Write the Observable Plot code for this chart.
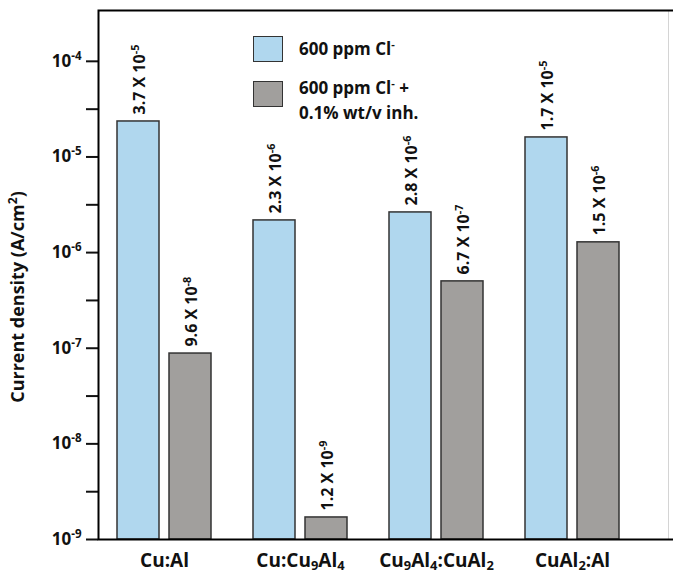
<!DOCTYPE html>
<html>
<head>
<meta charset="utf-8">
<script src="https://cdn.jsdelivr.net/npm/d3@7"></script>
<script src="https://cdn.jsdelivr.net/npm/@observablehq/plot@0.6"></script>
<style>
  html, body { margin: 0; padding: 0; background: #fff; }
  #wrap { position: relative; width: 673px; height: 575px; font-family: "Open Sans", sans-serif; font-weight: bold; color: #111; }
  .lg-box { position: absolute; border: 1.5px solid #333; box-sizing: border-box; }
  .lg-text { position: absolute; font-size: 17px; line-height: 25px; white-space: nowrap; }
  .lg-text sup { font-size: 0.65em; line-height: 0; vertical-align: 0.6em; }
</style>
</head>
<body>
<div id="wrap"></div>
<script>
// ---- data ----
const categories = ["Cu:Al", "Cu:Cu_{9}Al_{4}", "Cu_{9}Al_{4}:CuAl_{2}", "CuAl_{2}:Al"];
const blueValues = [2.35e-5, 2.17e-6, 2.63e-6, 1.6e-5];
const grayValues = [8.8e-8, 1.7e-9, 5.0e-7, 1.28e-6];
const blueLabels = ["3.7 X 10^{-5}", "2.3 X 10^{-6}", "2.8 X 10^{-6}", "1.7 X 10^{-5}"];
const grayLabels = ["9.6 X 10^{-8}", "1.2 X 10^{-9}", "6.7 X 10^{-7}", "1.5 X 10^{-6}"];
const majorTicks = [1e-4, 1e-5, 1e-6, 1e-7, 1e-8, 1e-9];
const majorTickLabels = ["10^{-4}", "10^{-5}", "10^{-6}", "10^{-7}", "10^{-8}", "10^{-9}"];
const minorTicks = [3.16e-5, 3.16e-6, 3.16e-7, 3.16e-8, 3.16e-9];
const yDomain = [1e-9, 3.4e-4];
const yTitle = "Current density (A/cm^{2})";
const seriesNames = ["600 ppm Cl<sup>-</sup>", "600 ppm Cl<sup>-</sup> +<br>0.1% wt/v inh."];
const blueFill = "#b0d7ee";
const grayFill = "#a19f9d";

const blue = categories.map((c, i) => ({cat: c, v: blueValues[i], label: blueLabels[i]}));
const gray = categories.map((c, i) => ({cat: c, v: grayValues[i], label: grayLabels[i]}));

const chart = Plot.plot({
  width: 673,
  height: 575,
  marginTop: 10,
  marginBottom: 36,
  marginLeft: 98,
  marginRight: 5,
  style: {fontFamily: "'Open Sans', sans-serif", fontWeight: "bold", color: "#111", background: "white", overflow: "visible"},
  x: {type: "band", domain: categories, range: [96, 640], padding: 0},
  y: {type: "log", domain: yDomain},
  marks: [
    Plot.frame({stroke: "#d4d4d4", strokeWidth: 1}),
    Plot.barY(blue, {x: "cat", y1: yDomain[0], y2: "v", fill: blueFill, stroke: "#333", strokeWidth: 1.5, insetLeft: 21, insetRight: 73}),
    Plot.barY(gray, {x: "cat", y1: yDomain[0], y2: "v", fill: grayFill, stroke: "#333", strokeWidth: 1.5, insetLeft: 73, insetRight: 21}),
    Plot.text(blue, {x: "cat", y: "v", text: "label", rotate: -90, textAnchor: "start", lineAnchor: "middle", dx: -25, dy: -7, fontSize: 16, fontWeight: "bold", fill: "#111"}),
    Plot.text(gray, {x: "cat", y: "v", text: "label", rotate: -90, textAnchor: "start", lineAnchor: "middle", dx: 27, dy: -7, fontSize: 16, fontWeight: "bold", fill: "#111"}),
    Plot.axisY({ticks: majorTicks, tickFormat: d => majorTickLabels[majorTicks.indexOf(d)], tickSize: 12, tickPadding: 5, fontSize: 17, fontWeight: "bold", strokeWidth: 2, label: null}),
    Plot.axisY({ticks: minorTicks, tickFormat: () => "", tickSize: 12, strokeWidth: 2, label: null}),
    Plot.axisX({tickSize: 0, tickPadding: 14, fontSize: 19, fontWeight: "bold", label: null}),
    Plot.text([yTitle], {frameAnchor: "left", rotate: -90, textAnchor: "middle", dx: -80, dy: 22, fontSize: 18, fontWeight: "bold", fill: "#111"}),
    Plot.frame({stroke: "#000", strokeWidth: 2, insetRight: -12})
  ]
});

// turn ^{..} and _{..} markup into real superscript/subscript tspans
function richify(el) {
  const s = el.textContent;
  if (!/[\^_]\{/.test(s)) return;
  el.textContent = "";
  const re = /([\^_])\{([^}]*)\}/g;
  let last = 0, m;
  const ns = "http://www.w3.org/2000/svg";
  while ((m = re.exec(s)) !== null) {
    if (m.index > last) {
      const t = document.createElementNS(ns, "tspan");
      t.textContent = s.slice(last, m.index);
      el.appendChild(t);
    }
    const t = document.createElementNS(ns, "tspan");
    t.textContent = m[2];
    t.setAttribute("font-size", "68%");
    t.setAttribute("baseline-shift", m[1] === "^" ? "55%" : "-22%");
    el.appendChild(t);
    last = re.lastIndex;
  }
  if (last < s.length) {
    const t = document.createElementNS(ns, "tspan");
    t.textContent = s.slice(last);
    el.appendChild(t);
  }
}
chart.querySelectorAll("text").forEach(t => {
  const spans = t.querySelectorAll("tspan");
  if (spans.length) spans.forEach(richify); else richify(t);
});

const wrap = document.getElementById("wrap");
wrap.appendChild(chart);

// legend
const legendItems = [
  {fill: blueFill, name: seriesNames[0], box: [253, 36], text: [299, 36]},
  {fill: grayFill, name: seriesNames[1], box: [253, 81], text: [299, 75]}
];
legendItems.forEach(it => {
  const b = document.createElement("div");
  b.className = "lg-box";
  b.style.left = it.box[0] + "px";
  b.style.top = it.box[1] + "px";
  b.style.width = "30px";
  b.style.height = "26px";
  b.style.background = it.fill;
  wrap.appendChild(b);
  const t = document.createElement("div");
  t.className = "lg-text";
  t.style.left = it.text[0] + "px";
  t.style.top = it.text[1] + "px";
  t.innerHTML = it.name;
  wrap.appendChild(t);
});
</script>
</body>
</html>
